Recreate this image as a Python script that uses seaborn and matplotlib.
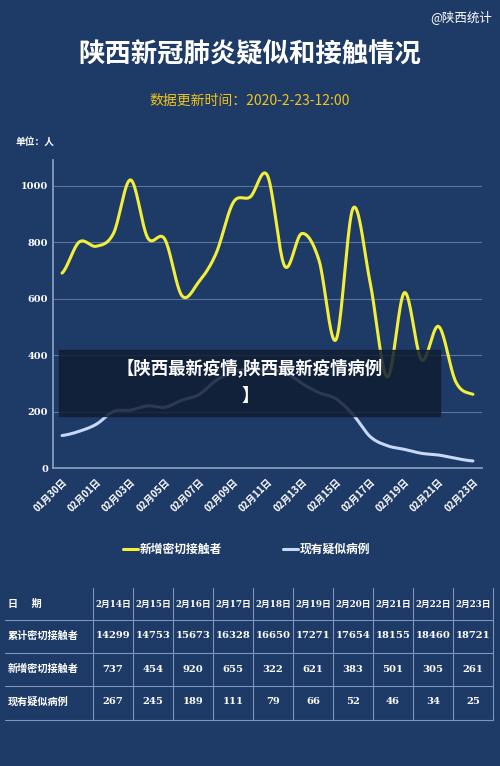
import numpy as np
import matplotlib
matplotlib.use("Agg")
import matplotlib.pyplot as plt
import seaborn as sns
import pandas as pd

dates = ["01月30日","01月31日","02月01日","02月02日","02月03日","02月04日","02月05日","02月06日",
         "02月07日","02月08日","02月09日","02月10日","02月11日","02月12日","02月13日","02月14日",
         "02月15日","02月16日","02月17日","02月18日","02月19日","02月20日","02月21日","02月22日","02月23日"]
new_contacts = [690,800,785,830,1020,815,810,610,660,760,940,960,1035,715,830,737,454,920,655,322,621,383,501,305,261]
suspected = [115,130,155,200,205,220,215,240,260,310,340,350,345,340,300,267,245,189,111,79,66,52,46,34,25]

tbl_dates = ["2月14日","2月15日","2月16日","2月17日","2月18日","2月19日","2月20日","2月21日","2月22日","2月23日"]
tbl_cum = [14299,14753,15673,16328,16650,17271,17654,18155,18460,18721]
tbl_new = [737,454,920,655,322,621,383,501,305,261]
tbl_sus = [267,245,189,111,79,66,52,46,34,25]

sns.set_theme(style="dark")
plt.rcParams['font.family'] = ['Noto Sans CJK SC', 'DejaVu Sans']
BG = "#1e3a67"
fig = plt.figure(figsize=(5, 7.66), dpi=100, facecolor=BG)

def smooth(y, n=20):
    y = np.asarray(y, float)
    p = np.concatenate([[y[0]], y, [y[-1]]])
    xs, ys = [], []
    for i in range(len(y) - 1):
        p0, p1, p2, p3 = p[i], p[i+1], p[i+2], p[i+3]
        t = np.linspace(0, 1, n, endpoint=False)
        v = 0.5*((2*p1) + (-p0+p2)*t + (2*p0-5*p1+4*p2-p3)*t**2 + (-p0+3*p1-3*p2+p3)*t**3)
        xs.append(i + t); ys.append(v)
    xs.append([len(y)-1]); ys.append([y[-1]])
    return np.concatenate(xs), np.concatenate(ys)

ax = fig.add_axes([0.106, 0.389, 0.858, 0.402])
ax.set_facecolor(BG)
x1, y1 = smooth(new_contacts)
x2, y2 = smooth(suspected)
df = pd.DataFrame({"x": np.concatenate([x1, x2]), "y": np.concatenate([y1, y2]),
                   "s": ["新增密切接触者"]*len(x1) + ["现有疑似病例"]*len(x2)})
sns.lineplot(data=df, x="x", y="y", hue="s", palette=["#f2ee3a", "#c8d8f8"],
             linewidth=2.2, ax=ax, legend=False, sort=False, estimator=None)
ax.set_xlim(-0.53, 24.53)
ax.set_ylim(0, 1090)
ax.set_yticks([0, 200, 400, 600, 800, 1000])
ax.set_yticklabels(["0","200","400","600","800","1000"], color="white", fontsize=7, fontweight="bold", family="DejaVu Serif")
ax.set_xticks(range(0, 25, 2))
ax.set_xticklabels(dates[::2], rotation=45, ha="right", rotation_mode="anchor", color="white", fontsize=7, fontweight="bold")
ax.grid(axis="y", color="#5a7398", linewidth=0.8)
ax.tick_params(axis="x", length=3, color="#8aa0c0")
ax.tick_params(axis="y", length=0)
for s in ["top", "right"]:
    ax.spines[s].set_visible(False)
ax.spines["left"].set_color("#8aa0c0")
ax.spines["bottom"].set_color("#8aa0c0")
ax.set_xlabel(""); ax.set_ylabel("")

fig.text(0.5, 0.928, "陕西新冠肺炎疑似和接触情况", color="white", fontsize=19, fontweight="bold", ha="center", va="center")
fig.text(0.5, 0.868, "数据更新时间：2020-2-23-12:00", color="#f2c41a", fontsize=10, ha="center", va="center")
fig.text(0.985, 0.978, "@陕西统计", color="white", fontsize=9, ha="right", va="center")
fig.text(0.03, 0.815, "单位：人", color="white", fontsize=7, fontweight="bold", ha="left", va="center")

# legend
fig.add_artist(plt.Line2D([0.245, 0.275], [0.283, 0.283], color="#f2ee3a", lw=2.2))
fig.text(0.28, 0.283, "新增密切接触者", color="white", fontsize=8.5, fontweight="bold", va="center")
fig.add_artist(plt.Line2D([0.565, 0.595], [0.283, 0.283], color="#c8d8f8", lw=2.2))
fig.text(0.6, 0.283, "现有疑似病例", color="white", fontsize=8.5, fontweight="bold", va="center")

# table
W, H = 500, 766
def fx(px): return px / W
def fy(py): return 1 - py / H
rows_y = [604, 636, 669, 702]
lines_y = [620, 653, 686, 720]
col_edges = [93 + 40 * i for i in range(11)]
for ly in lines_y:
    fig.add_artist(plt.Line2D([fx(5), fx(493)], [fy(ly), fy(ly)], color="#7f95bb", lw=0.8))
for cx in col_edges:
    fig.add_artist(plt.Line2D([fx(cx), fx(cx)], [fy(588), fy(720)], color="#7f95bb", lw=0.8))
labels = ["日      期", "累计密切接触者", "新增密切接触者", "现有疑似病例"]
for ry, lab in zip(rows_y, labels):
    fig.text(fx(8), fy(ry), lab, color="white", fontsize=7.3, fontweight="bold", va="center")
rows = [tbl_dates, [str(v) for v in tbl_cum], [str(v) for v in tbl_new], [str(v) for v in tbl_sus]]
for ry, row in zip(rows_y, rows):
    for i, v in enumerate(row):
        fs = 6.3 if ry == rows_y[0] else 7.2
        fig.text(fx(col_edges[i] + 20), fy(ry), v, color="white", fontsize=fs, fontweight="bold",
                 ha="center", va="center", family=["DejaVu Serif", "Noto Sans CJK SC"])

# banner
fig.add_artist(plt.Rectangle((fx(59), fy(416)), fx(440) - fx(59), fy(350) - fy(416),
                             transform=fig.transFigure, color="#111d33", alpha=0.85, zorder=5))
fig.text(0.5, fy(368), "【陕西最新疫情,陕西最新疫情病例", color="white", fontsize=12.5, fontweight="bold",
         ha="center", va="center", zorder=6)
fig.text(0.5, fy(396), "】", color="white", fontsize=12.5, fontweight="bold", ha="center", va="center", zorder=6)

fig.savefig("out.png", dpi=100, facecolor=BG)
